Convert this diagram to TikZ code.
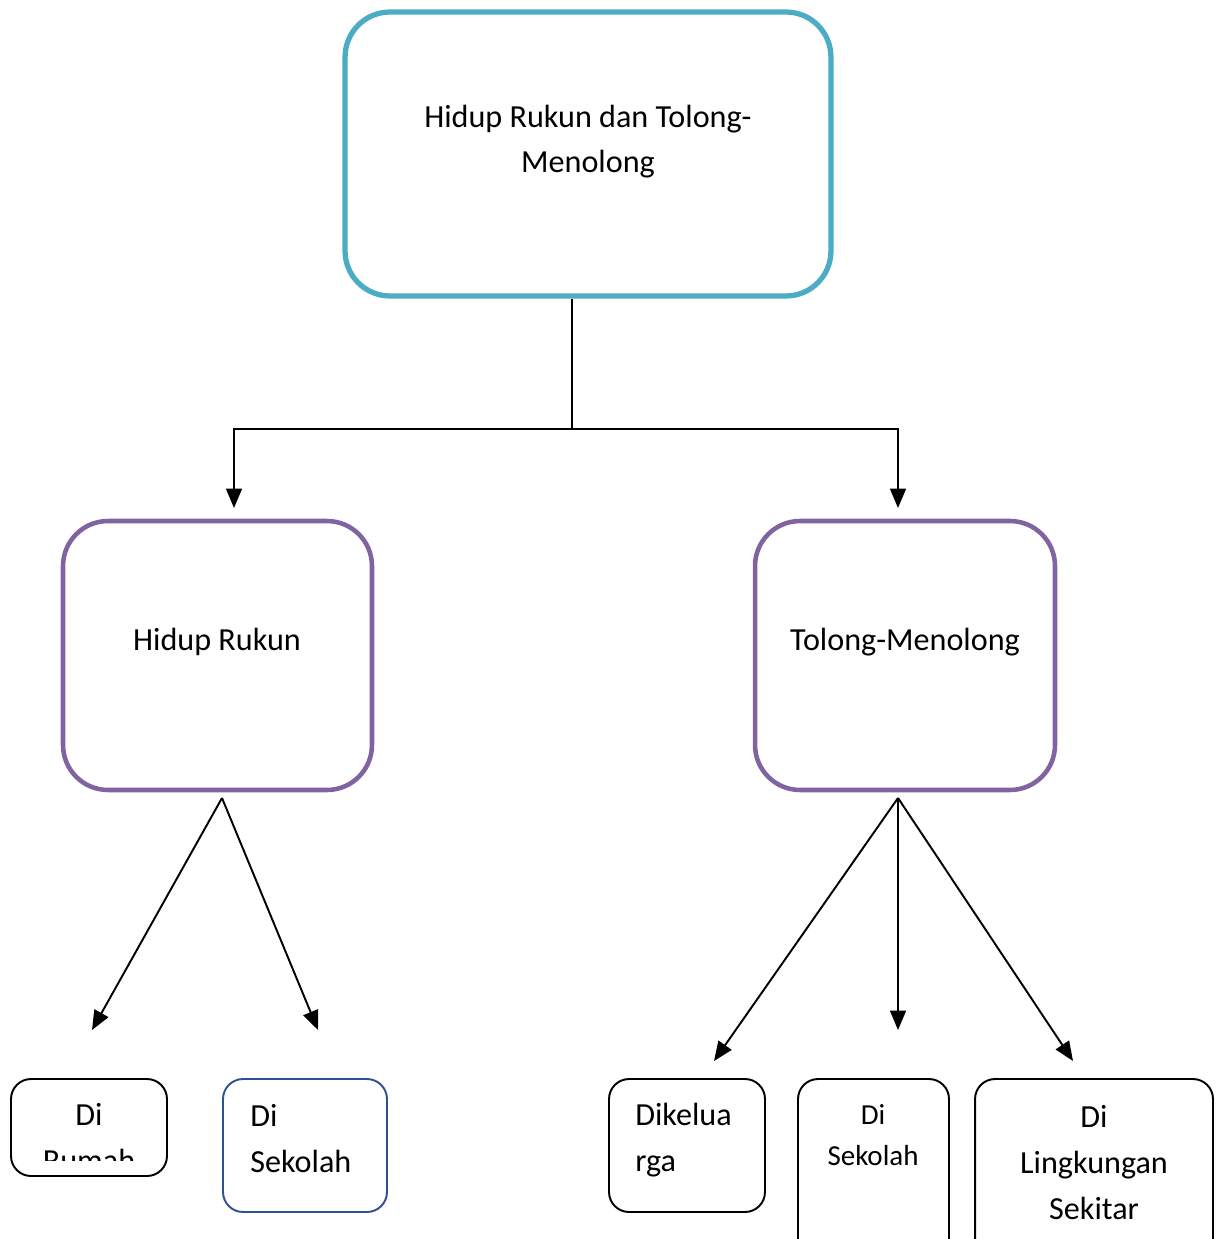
\documentclass[tikz,border=0pt]{standalone}
\usepackage{fontspec}
\setmainfont{Carlito}
\usetikzlibrary{arrows.meta, positioning}
\definecolor{rootcol}{HTML}{4BACC6}
\definecolor{midcol}{HTML}{8064A2}
\definecolor{leafblue}{HTML}{2F528F}
\tikzset{%
	rootbox/.style={draw=rootcol, line width=3pt, rounded corners=0.9cm,%
		minimum width=9.72cm, minimum height=5.68cm, inner sep=0mm},
	midbox/.style={draw=midcol, line width=2.6pt, rounded corners=0.9cm,%
		minimum height=5.38cm, inner sep=0mm},
	leaf/.style={draw, line width=1.1pt, rounded corners=0.4cm, inner sep=0mm},
	txt/.style={inner sep=0mm, align=center, font=\fontsize{18.3}{26}\selectfont},
	smalltxt/.style={txt, font=\fontsize{16.5}{23}\selectfont},
	connector/.style={line width=1pt},
	sel/.style={-{Triangle[length=11pt,width=9pt]}, line width=1.1pt}
}
\begin{document}
\begin{tikzpicture}[x=0.02cm, y=-0.02cm]
	\clip (0,0) rectangle (1222,1239);

	\node[rootbox] (root) at (588,154) {};
	\node[txt, anchor=base] (roottxt) at (588,173) {Hidup Rukun dan Tolong-\\Menolong};

	\node[midbox, minimum width=6.18cm] (rukun) at (217.5,655.5) {};
	\node[txt, anchor=base] (rukuntxt) at (217,650) {Hidup Rukun};
	\node[midbox, minimum width=6cm] (tolong) at (905,655.5) {};
	\node[txt, anchor=base] (tolongtxt) at (905,650) {Tolong-Menolong};

	\node[leaf, minimum width=3.12cm, minimum height=1.94cm] (rumah) at (89,1127.5) {};
	\begin{scope}
		\clip (11,1079) rectangle (167,1160);
		\node[txt, anchor=base] (rumahtxt) at (89,1171) {Di\\Rumah};
	\end{scope}
	\node[leaf, draw=leafblue, minimum width=3.28cm, minimum height=2.66cm] (sekolahA) at (305,1145.5) {};
	\node[txt, align=left, anchor=base west] (sekolahAtxt) at (250,1172) {Di\\Sekolah};

	\node[leaf, minimum width=3.12cm, minimum height=2.66cm] (keluarga) at (687,1145.5) {};
	\node[txt, align=left, anchor=base west] (keluargatxt) at (635,1171) {Dikelua\\rga};
	\node[leaf, minimum width=3.02cm, minimum height=3.62cm] (sekolahB) at (873.5,1169.5) {};
	\node[smalltxt, anchor=base] (sekolahBtxt) at (873,1165) {Di\\Sekolah};
	\node[leaf, minimum width=4.76cm, minimum height=3.62cm] (sekitar) at (1094,1169.5) {};
	\node[txt, anchor=base] (sekitartxt) at (1094,1219) {Di\\Lingkungan\\Sekitar};

	% free ends of the connectors
	\coordinate (split) at (572,429);
	\coordinate (tipL) at (234,508);
	\coordinate (tipR) at (898,508);
	\coordinate (rukunfoot) at (222,798);
	\coordinate (tolongfoot) at (898,798);
	\coordinate (toRumah) at (92,1030);
	\coordinate (toSekolahA) at (318,1030);
	\coordinate (toKeluarga) at (714,1061);
	\coordinate (toSekolahB) at (898,1030);
	\coordinate (toSekitar) at (1073,1061);

	\draw[connector] (root.south -| split) -- (split);
	\draw[sel]       (split) -| (tipL);
	\draw[sel]       (split) -| (tipR);

	\draw[sel] (rukunfoot)  -- (toRumah);
	\draw[sel] (rukunfoot)  -- (toSekolahA);
	\draw[sel] (tolongfoot) -- (toKeluarga);
	\draw[sel] (tolongfoot) -- (toSekolahB);
	\draw[sel] (tolongfoot) -- (toSekitar);

\end{tikzpicture}
\end{document}
